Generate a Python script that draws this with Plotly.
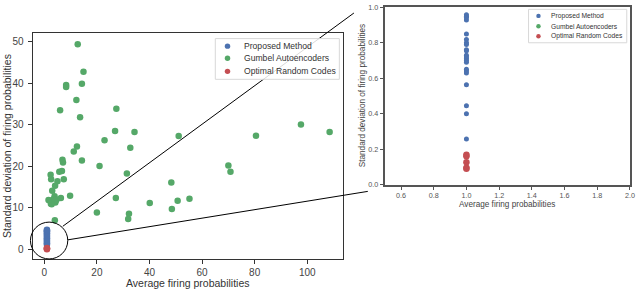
import plotly.graph_objects as go

W, H = 640, 294

# ---------------- data ----------------
series_names = ["Proposed Method", "Gumbel Autoencoders", "Optimal Random Codes"]
colors = ["#4c72b0", "#55a868", "#c44e52"]

# main panel
gumbel_x = [12.7, 14.9, 8.3, 8.3, 14.3, 12.2, 6.0, 27.4, 13.6, 26.9, 34.3, 22.9, 12.4, 32.7,
            11.2, 6.9, 7.1, 14.3, 21.0, 2.4, 2.6, 5.7, 6.7, 31.4, 5.0, 7.4, 4.1, 3.0, 3.9, 9.8,
            6.3, 27.2, 2.0, 2.5, 3.0, 3.5, 4.2, 4.6, 2.8, 1.6, 48.3, 55.2, 50.7, 40.1, 48.5,
            20.0, 32.2, 31.9, 4.0, 70.0, 70.8, 80.5, 97.6, 108.5, 51.1]
gumbel_y = [49.4, 42.8, 39.6, 39.1, 39.9, 36.0, 33.5, 33.9, 31.8, 28.5, 28.3, 26.3, 24.8, 24.5,
            23.6, 21.6, 20.9, 21.4, 20.1, 18.0, 16.9, 18.7, 18.9, 18.3, 16.4, 16.9, 15.3, 14.1,
            12.8, 12.9, 12.4, 12.4, 11.8, 11.0, 11.5, 12.1, 11.3, 11.9, 10.9, 11.9, 16.1, 12.2,
            11.7, 11.2, 9.7, 8.9, 8.6, 7.3, 7.0, 20.2, 18.7, 27.4, 30.1, 28.3, 27.3]
proposed_main_x = [1.0] * 14
proposed_main_y = [1.2, 1.5, 1.8, 2.1, 2.4, 2.7, 3.0, 3.3, 3.6, 3.9, 4.2, 4.4, 4.6, 4.75]
random_main_x = [1.0] * 4
random_main_y = [0.05, 0.15, 0.25, 0.35]

# zoomed panel
proposed_zoom_x = [1.0] * 22
proposed_zoom_y = [0.958, 0.949, 0.942, 0.928, 0.850, 0.818, 0.800, 0.790, 0.760, 0.755, 0.730,
                   0.720, 0.710, 0.700, 0.690, 0.650, 0.640, 0.630, 0.563, 0.444, 0.400, 0.257]
random_zoom_x = [1.0] * 5
random_zoom_y = [0.169, 0.160, 0.126, 0.095, 0.089]

main_xticks = [0, 20, 40, 60, 80, 100]
main_yticks = [0, 10, 20, 30, 40, 50]
zoom_xticks = [0.6, 0.8, 1.0, 1.2, 1.4, 1.6, 1.8, 2.0]
zoom_yticks = [0.0, 0.2, 0.4, 0.6, 0.8, 1.0]

x_title = "Average firing probabilities"
y_title = "Standard deviation of firing probabilities"


def px(x):
    return x / W


def py(y):
    return 1 - y / H


FONT = "Liberation Sans, Arial, sans-serif"

fig = go.Figure()
fig.add_trace(go.Scatter(x=proposed_main_x, y=proposed_main_y, mode="markers", name=series_names[0],
                         marker=dict(color=colors[0], size=6.5), xaxis="x", yaxis="y", showlegend=False))
fig.add_trace(go.Scatter(x=gumbel_x, y=gumbel_y, mode="markers", name=series_names[1],
                         marker=dict(color=colors[1], size=6.5), xaxis="x", yaxis="y", showlegend=False))
fig.add_trace(go.Scatter(x=random_main_x, y=random_main_y, mode="markers", name=series_names[2],
                         marker=dict(color=colors[2], size=6.5), xaxis="x", yaxis="y", showlegend=False))
fig.add_trace(go.Scatter(x=proposed_zoom_x, y=proposed_zoom_y, mode="markers", name=series_names[0],
                         marker=dict(color=colors[0], size=5), xaxis="x2", yaxis="y2", showlegend=False))
fig.add_trace(go.Scatter(x=random_zoom_x, y=random_zoom_y, mode="markers", name=series_names[2],
                         marker=dict(color=colors[2], size=6.5), xaxis="x2", yaxis="y2", showlegend=False))

axis_common = dict(showgrid=False, zeroline=False, showline=True, mirror=True, ticks="outside",
                   ticklabeloverflow="allow")

fig.update_layout(
    width=W, height=H, margin=dict(l=0, r=0, t=0, b=0),
    paper_bgcolor="white", plot_bgcolor="white",
    font=dict(family=FONT, color="#333"),
    xaxis=dict(**axis_common, domain=[px(33), px(346)], range=[-4.4, 113.7], anchor="y",
               tickvals=main_xticks, ticklen=4, linecolor="#333", linewidth=1.2, tickcolor="#333",
               tickfont=dict(size=10, color="#444"), ticklabelstandoff=0),
    yaxis=dict(**axis_common, domain=[py(263), py(30)], range=[-2.3, 52.1], anchor="x",
               tickvals=main_yticks, ticklen=4, linecolor="#333", linewidth=1.2, tickcolor="#333",
               tickfont=dict(size=10, color="#444"), ticklabelstandoff=2),
    xaxis2=dict(**axis_common, domain=[px(387.7), px(635)], range=[0.5, 2.0005], anchor="y2",
                tickvals=zoom_xticks, tickformat=".1f", ticklen=3, linecolor="#555", linewidth=2,
                tickcolor="#555", tickfont=dict(size=7.2, color="#555")),
    yaxis2=dict(**axis_common, domain=[py(186.3), py(3.3)], range=[0, 1.0005], anchor="x2",
                tickvals=zoom_yticks, tickformat=".1f", ticklen=3, linecolor="#555", linewidth=2,
                tickcolor="#555", tickfont=dict(size=7.2, color="#555")),
)

shapes = []
annotations = []

# axis titles
annotations.append(dict(xref="paper", yref="paper", x=px(189.5), y=py(288), text=x_title,
                        showarrow=False, xanchor="center", yanchor="middle",
                        font=dict(size=10.5, color="#333", family=FONT)))
annotations.append(dict(xref="paper", yref="paper", x=px(7), y=py(146.5), text=y_title,
                        showarrow=False, xanchor="center", yanchor="middle", textangle=-90,
                        font=dict(size=10.5, color="#333", family=FONT)))
annotations.append(dict(xref="paper", yref="paper", x=px(511.3), y=py(206.7), text=x_title,
                        showarrow=False, xanchor="center", yanchor="middle",
                        font=dict(size=8.2, color="#444", family=FONT)))
annotations.append(dict(xref="paper", yref="paper", x=px(365), y=py(95), text=y_title,
                        showarrow=False, xanchor="center", yanchor="middle", textangle=-90,
                        font=dict(size=8.2, color="#444", family=FONT)))

# zoom circle and connecting lines
shapes.append(dict(type="circle", xref="paper", yref="paper", x0=px(30.7), x1=px(68.3),
                   y0=py(263), y1=py(225), line=dict(color="black", width=1)))
shapes.append(dict(type="line", xref="paper", yref="paper", x0=px(63.3), y0=py(229.3),
                   x1=px(356.7), y1=py(9.3), line=dict(color="black", width=1)))
shapes.append(dict(type="line", xref="paper", yref="paper", x0=px(68.3), y0=py(243.3),
                   x1=px(370.7), y1=py(193.3), line=dict(color="black", width=1)))


def add_legend(x0, y0, x1, y1, mx, tx, rows, msize, fsize):
    shapes.append(dict(type="rect", xref="paper", yref="paper", x0=px(x0), x1=px(x1),
                       y0=py(y1), y1=py(y0), line=dict(color="#d8d8d8", width=1),
                       fillcolor="rgba(255,255,255,0.85)", layer="above"))
    for name, col, ry in zip(series_names, colors, rows):
        r = msize / 2
        shapes.append(dict(type="circle", xref="paper", yref="paper", x0=px(mx - r), x1=px(mx + r),
                           y0=py(ry + r), y1=py(ry - r), fillcolor=col, line=dict(width=0),
                           layer="above"))
        annotations.append(dict(xref="paper", yref="paper", x=px(tx), y=py(ry), text=name,
                                showarrow=False, xanchor="left", yanchor="middle",
                                font=dict(size=fsize, color="#333", family=FONT)))


add_legend(217, 35.7, 342, 77.7, 229.3, 244, [43.5, 56, 69.5], 5.5, 8.6)
add_legend(532.7, 5.5, 631.7, 40, 542.7, 553, [12.3, 23, 33.3], 4.5, 6.7)

fig.update_layout(shapes=shapes, annotations=annotations)
fig.write_html("out.html", config={"displayModeBar": False},
               post_script="document.body.style.margin='0';document.body.style.overflow='hidden';")
